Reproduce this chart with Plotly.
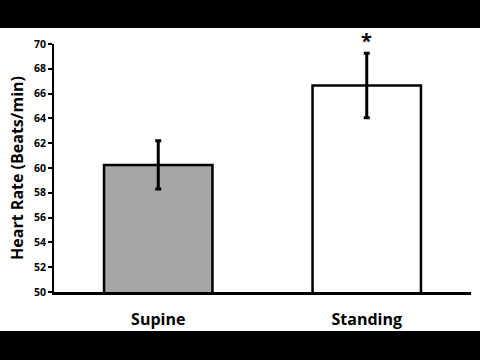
import plotly.graph_objects as go

categories = ["Supine", "Standing"]
means = [60.25, 66.65]
errors = [1.95, 2.6]
bar_colors = ["#a6a6a6", "#ffffff"]
y_ticks = [50, 52, 54, 56, 58, 60, 62, 64, 66, 68, 70]

FONT = "Open Sans"

fig = go.Figure()
fig.add_trace(go.Bar(
    x=categories, y=means,
    marker=dict(color=bar_colors, line=dict(color="black", width=2.5)),
    error_y=dict(type="data", array=errors, visible=True, color="black", thickness=3, width=3),
    width=0.52,
))

fig.add_annotation(x="Standing", y=means[1] + errors[1], text="<b>*</b>", showarrow=False,
                   yanchor="bottom", yshift=-3, font=dict(family=FONT, size=20, color="black"))
fig.add_annotation(xref="paper", yref="paper", x=-0.089, y=0.5, text="<b>Heart Rate (Beats/min)</b>",
                   xanchor="center", yanchor="middle",
                   textangle=-90, showarrow=False, font=dict(family=FONT, size=16, color="black"))

# black bands top and bottom
fig.add_shape(type="rect", xref="paper", yref="paper", x0=-0.3, x1=1.2, y0=1.0645, y1=1.3,
              fillcolor="black", line=dict(width=0), layer="above")
fig.add_shape(type="rect", xref="paper", yref="paper", x0=-0.3, x1=1.2, y0=-0.157, y1=-0.4,
              fillcolor="black", line=dict(width=0), layer="above")

fig.update_layout(
    width=480, height=360,
    margin=dict(l=54, r=9, t=44, b=68, autoexpand=False),
    paper_bgcolor="white", plot_bgcolor="white",
    showlegend=False, bargap=0.48,
    font=dict(family=FONT, color="black"),
)
fig.update_xaxes(showline=True, linecolor="black", linewidth=3, ticks="",
                 tickfont=dict(family=FONT, size=16, color="black"),
                 tickvals=categories, ticktext=["<b>%s</b>" % c for c in categories],
                 ticklabelstandoff=11, automargin=False)
fig.update_yaxes(range=[50, 70], tickvals=y_ticks, showline=True, linecolor="black", linewidth=2,
                 ticks="outside", ticklen=4, tickwidth=1.5, tickcolor="black", showgrid=False,
                 zeroline=False, tickfont=dict(family=FONT, size=10.5, color="black"),
                 ticktext=["<b>%d</b>" % v for v in y_ticks], automargin=False)

fig.write_html("out.html", config={"displayModeBar": False},
               post_script="document.body.style.margin='0';document.body.style.overflow='hidden';")
